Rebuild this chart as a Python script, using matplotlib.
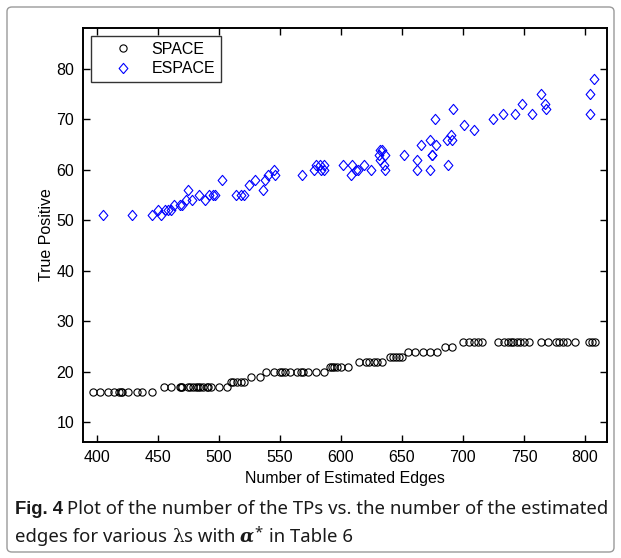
import matplotlib
matplotlib.use("Agg")
import matplotlib.pyplot as plt
from matplotlib.patches import FancyBboxPatch
import numpy as np

plt.rcParams["font.family"] = ["Liberation Sans", "DejaVu Sans"]

# ---------------- data ----------------
space_x = [397, 403, 409, 414, 418, 420, 421, 426, 433, 437, 445,
           455, 461, 468, 469, 470, 475, 476, 479, 481, 483, 485, 487, 490, 491, 494, 500, 507,
           510, 512, 515, 518, 521,
           526, 534,
           539, 545, 550, 552, 554, 558, 564, 567, 569, 573, 580, 586,
           591, 593, 594, 597, 600, 606,
           615, 621, 623, 627, 630, 634,
           640, 643, 645, 648, 650,
           655, 661, 667, 673, 679,
           685, 691,
           700, 705, 709, 712, 716,
           729, 734, 737, 739, 741, 744, 747, 750, 754,
           764, 770, 776, 779, 782, 785, 792,
           803, 806, 808]
space_y = [16] * 11 + [17] * 17 + [18] * 5 + [19] * 2 + [20] * 12 + [21] * 6 + \
          [22] * 6 + [23] * 5 + [24] * 5 + [25] * 2 + [26] * 24

espace_x = [405, 429, 445, 450, 453, 456, 458, 461, 463, 468, 470, 473, 475, 478,
            484, 489, 492, 495, 497, 503, 514, 518, 521, 525, 530, 536, 538, 540,
            545, 546, 568, 578, 580, 583, 584, 586, 586, 602, 609, 608, 612, 614,
            619, 625, 631, 632, 634, 636, 632, 635, 636, 652, 662, 662, 666, 673,
            675, 675, 673, 678, 677, 687, 688, 690, 691, 692, 701, 709, 725, 733,
            743, 748, 757, 764, 767, 768, 804, 807, 804]
espace_y = [51, 51, 51, 52, 51, 52, 52, 52, 53, 53, 53, 54, 56, 54,
            55, 54, 55, 55, 55, 58, 55, 55, 55, 57, 58, 56, 58, 59,
            60, 59, 59, 60, 61, 61, 60, 61, 60, 61, 61, 59, 60, 60,
            61, 60, 63, 64, 64, 63, 62, 61, 60, 63, 62, 60, 65, 66,
            63, 63, 60, 65, 70, 66, 61, 67, 66, 72, 69, 68, 70, 71,
            71, 73, 71, 75, 73, 72, 75, 78, 71]

x_ticks = [400, 450, 500, 550, 600, 650, 700, 750, 800]
y_ticks = [10, 20, 30, 40, 50, 60, 70, 80]

series_names = ["SPACE", "ESPACE"]
x_label = "Number of Estimated Edges"
y_label = "True Positive"

# ---------------- figure ----------------
W, H = 621, 558
fig = plt.figure(figsize=(W / 100, H / 100), dpi=100)
fig.patch.set_facecolor("white")

# outer border
border = FancyBboxPatch((7 / W, 1 - 552 / H), (614 - 7) / W, (552 - 7) / H,
                        boxstyle="round,pad=0,rounding_size=0.008",
                        transform=fig.transFigure, fill=False,
                        edgecolor="#9a9a9a", linewidth=1.0)
fig.patches.append(border)

ax_l, ax_r, ax_t, ax_b = 82.7, 606.7, 28.3, 441.7
ax = fig.add_axes([ax_l / W, 1 - ax_b / H, (ax_r - ax_l) / W, (ax_b - ax_t) / H])

FS = 11.5

diamond = [(0, -1), (0.85, 0), (0, 1), (-0.85, 0), (0, -1)]
ax.plot(space_x, space_y, linestyle="none", marker="o", markersize=5.2,
        markerfacecolor="none", markeredgecolor="black", markeredgewidth=0.8,
        label=series_names[0])
ax.plot(espace_x, espace_y, linestyle="none", marker=diamond, markersize=7.4,
        markerfacecolor="none", markeredgecolor="#0000ff", markeredgewidth=0.8,
        label=series_names[1])

ax.set_xlim(388.5, 817.8)
ax.set_ylim(6.16, 88.06)
ax.set_xticks(x_ticks)
ax.set_yticks(y_ticks)
ax.set_xticklabels([str(t) for t in x_ticks])
ax.set_yticklabels([str(t) for t in y_ticks])
ax.tick_params(direction="in", length=5, width=1.0, top=True, right=True,
               pad=6, colors="black", labelsize=FS)
for s in ax.spines.values():
    s.set_linewidth(1.4)
    s.set_color("black")

ax.set_xlabel(x_label, fontsize=FS, labelpad=4)
ax.set_ylabel(y_label, fontsize=FS, labelpad=1.5)

leg = ax.legend(loc="upper left",
                bbox_to_anchor=((90.7 - ax_l) / (ax_r - ax_l), (ax_b - 36) / (ax_b - ax_t)),
                borderaxespad=0, fancybox=False, frameon=True, edgecolor="black",
                prop=dict(size=FS), handlelength=3.3,
                handletextpad=0.15, borderpad=0.35, labelspacing=0.3)
leg.get_frame().set_linewidth(1.0)

# ---------------- caption ----------------
cap_font = ["Noto Sans", "DejaVu Sans"]
bold_font = ["Liberation Sans", "DejaVu Sans"]
fig.canvas.draw()
renderer = fig.canvas.get_renderer()

line1_a = "Fig. 4"
line1_b = "Plot of the number of the TPs vs. the number of the estimated"

# fit caption size so that line 1 spans the panel width
probe_size = 12.0
t1 = fig.text(0, 0, line1_a, size=probe_size, weight="bold", family=bold_font)
t2 = fig.text(0, 0, line1_b, size=probe_size, family=cap_font)
wtot = t1.get_window_extent(renderer).width + t2.get_window_extent(renderer).width + 4
t1.remove(); t2.remove()
cap_size = probe_size * (606 - 15) / wtot

def place(x_px, y_px, s, **kw):
    t = fig.text(x_px / W, 1 - y_px / H, s, va="baseline", ha="left", **kw)
    bb = t.get_window_extent(renderer)
    return x_px + bb.width

col = "#1a1a1a"
line1_base = 514
x = 15
x = place(x, line1_base, line1_a, family=bold_font, size=cap_size, weight="bold", color=col)
x = place(x + 4, line1_base, line1_b, family=cap_font, size=cap_size, color=col)

line2_base = 542
x = 15
x = place(x, line2_base, "edges for various ", family=cap_font, size=cap_size, color=col)
x = place(x, line2_base, "λ", family=["DejaVu Serif"], size=cap_size, color=col)
x = place(x, line2_base, "s with ", family=cap_font, size=cap_size, color=col)
x = place(x, line2_base, "α", family=["DejaVu Serif"], size=cap_size, weight="bold",
          style="italic", color=col)
x = place(x, line2_base - 6, "*", family=cap_font, size=cap_size * 0.8, color=col)
x = place(x + 2, line2_base, " in Table 6", family=cap_font, size=cap_size, color=col)

fig.savefig("out.png", dpi=100, facecolor="white")
